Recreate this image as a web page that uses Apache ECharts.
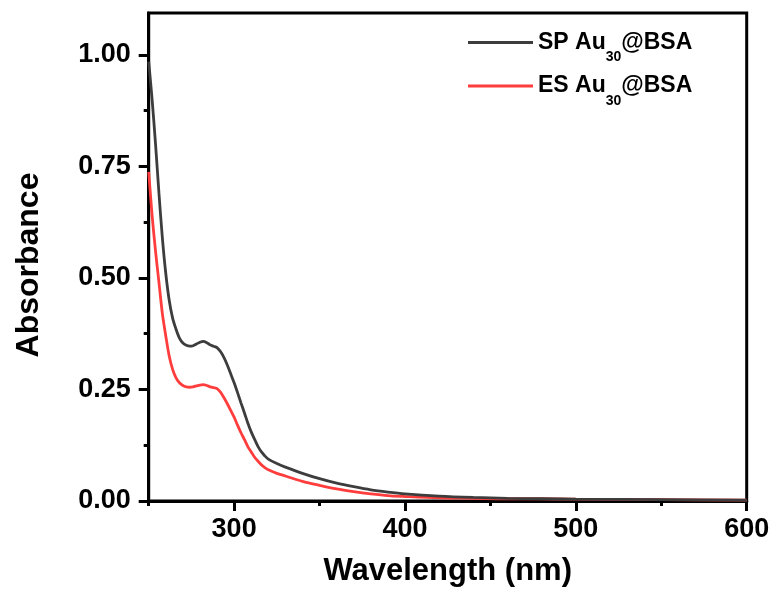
<!DOCTYPE html>
<html>
<head>
<meta charset="utf-8">
<script src="https://cdn.jsdelivr.net/npm/echarts@6/dist/echarts.min.js"></script>
<style>
  html, body { margin: 0; padding: 0; background: #fff; }
  #chart { width: 774px; height: 592px; }
</style>
</head>
<body>
<div id="chart"></div>
<script>
// UV-vis absorption spectra of two Au30@BSA cluster samples
const wavelength = [250, 252, 254, 256, 258, 260, 262, 264, 266, 268, 270, 272, 274, 276, 278, 280,
  282, 284, 286, 288, 290, 292, 294, 296, 298, 300, 302, 304, 306, 308, 310, 312, 314, 316, 318, 320,
  325, 330, 340, 350, 360, 370, 380, 390, 400, 420, 440, 460, 480, 500, 550, 600];

const absSP = [0.985, 0.90, 0.80, 0.69, 0.59, 0.51, 0.45, 0.41, 0.385, 0.365, 0.354, 0.349, 0.347, 0.348, 0.352, 0.356,
  0.358, 0.355, 0.350, 0.347, 0.344, 0.335, 0.322, 0.305, 0.285, 0.265, 0.243, 0.220, 0.198, 0.175, 0.155, 0.138, 0.122, 0.110, 0.101, 0.094,
  0.084, 0.076, 0.062, 0.050, 0.040, 0.032, 0.025, 0.020, 0.016, 0.011, 0.008, 0.006, 0.005, 0.004, 0.003, 0.002];

const absES = [0.738, 0.64, 0.56, 0.49, 0.42, 0.37, 0.325, 0.295, 0.276, 0.265, 0.259, 0.256, 0.255, 0.256, 0.258, 0.260,
  0.261, 0.259, 0.256, 0.254, 0.252, 0.244, 0.232, 0.218, 0.203, 0.188, 0.170, 0.153, 0.138, 0.122, 0.110, 0.098, 0.089, 0.081, 0.075, 0.070,
  0.062, 0.056, 0.044, 0.035, 0.027, 0.021, 0.016, 0.012, 0.010, 0.007, 0.006, 0.005, 0.005, 0.004, 0.003, 0.002];

const xMajorTicks = [300, 400, 500, 600];
const xMinorTicks = [250, 350, 450, 550];
const yMajorTicks = [0, 0.25, 0.5, 0.75, 1.0];
const yMinorTicks = [0.125, 0.375, 0.625, 0.875];

const FONT = '"Liberation Sans", Arial, Helvetica, sans-serif';
const X_MIN = 250, X_MAX = 600, Y_MIN = 0, Y_MAX = 1.094;

const pairs = (xs, ys) => xs.map((x, i) => [x, ys[i]]);

const chart = echarts.init(document.getElementById('chart'), null, { renderer: 'canvas' });

const legendRich = {
  a: { fontFamily: FONT, fontWeight: 'bold', fontSize: 23, color: '#000', lineHeight: 44, verticalAlign: 'middle' },
  s: { fontFamily: FONT, fontWeight: 'bold', fontSize: 14, color: '#000', lineHeight: 14, verticalAlign: 'bottom' }
};

chart.setOption({
  animation: false,
  backgroundColor: '#fff',
  grid: {
    left: 148.7, right: 27.3, top: 13, bottom: 90.3,
    show: true, borderColor: '#000', borderWidth: 3, backgroundColor: 'transparent'
  },
  legend: {
    orient: 'vertical',
    left: 463, top: 26,
    itemWidth: 65, itemHeight: 3, itemGap: 10,
    icon: 'rect',
    data: ['SP', 'ES'],
    formatter: name => `{a|${name} Au}{s|30}{a|@BSA}`,
    textStyle: { rich: legendRich }
  },
  xAxis: [{
    type: 'value', min: X_MIN, max: X_MAX,
    name: 'Wavelength (nm)', nameLocation: 'middle', nameGap: 55,
    nameTextStyle: { fontFamily: FONT, fontWeight: 'bold', fontSize: 31, color: '#000' },
    axisLine: { show: true, onZero: false, lineStyle: { color: '#000', width: 3 } },
    axisTick: { show: true, inside: false, length: 10, customValues: xMajorTicks, lineStyle: { color: '#000', width: 3 } },
    axisLabel: { show: true, margin: 15, customValues: xMajorTicks, fontFamily: FONT, fontWeight: 'bold', fontSize: 27, color: '#000' },
    splitLine: { show: false }
  }, {
    type: 'value', min: X_MIN, max: X_MAX, position: 'bottom',
    axisLine: { show: false },
    axisTick: { show: true, inside: false, length: 5, customValues: xMinorTicks, lineStyle: { color: '#000', width: 3 } },
    axisLabel: { show: false },
    splitLine: { show: false }
  }],
  yAxis: [{
    type: 'value', min: Y_MIN, max: Y_MAX,
    name: 'Absorbance', nameLocation: 'middle', nameGap: 104, nameRotate: 90,
    nameTextStyle: { fontFamily: FONT, fontWeight: 'bold', fontSize: 32, color: '#000', padding: [0, 16, 0, 0] },
    axisLine: { show: true, onZero: false, lineStyle: { color: '#000', width: 3 } },
    axisTick: { show: true, inside: false, length: 10, customValues: yMajorTicks, lineStyle: { color: '#000', width: 3 } },
    axisLabel: {
      show: true, margin: 18, customValues: yMajorTicks,
      formatter: v => v.toFixed(2),
      fontFamily: FONT, fontWeight: 'bold', fontSize: 27, color: '#000'
    },
    splitLine: { show: false }
  }, {
    type: 'value', min: Y_MIN, max: Y_MAX, position: 'left',
    axisLine: { show: false },
    axisTick: { show: true, inside: false, length: 5, customValues: yMinorTicks, lineStyle: { color: '#000', width: 3 } },
    axisLabel: { show: false },
    splitLine: { show: false }
  }],
  series: [{
    name: 'SP', type: 'line', xAxisIndex: 0, yAxisIndex: 0,
    data: pairs(wavelength, absSP),
    smooth: 0.3, symbol: 'none', clip: true,
    color: '#3d3d3d',
    lineStyle: { color: '#3d3d3d', width: 2.8 },
    z: 3
  }, {
    name: 'ES', type: 'line', xAxisIndex: 0, yAxisIndex: 0,
    data: pairs(wavelength, absES),
    smooth: 0.3, symbol: 'none', clip: true,
    color: '#ff3d3d',
    lineStyle: { color: '#ff3d3d', width: 2.8 },
    z: 2
  }]
});
</script>
</body>
</html>
